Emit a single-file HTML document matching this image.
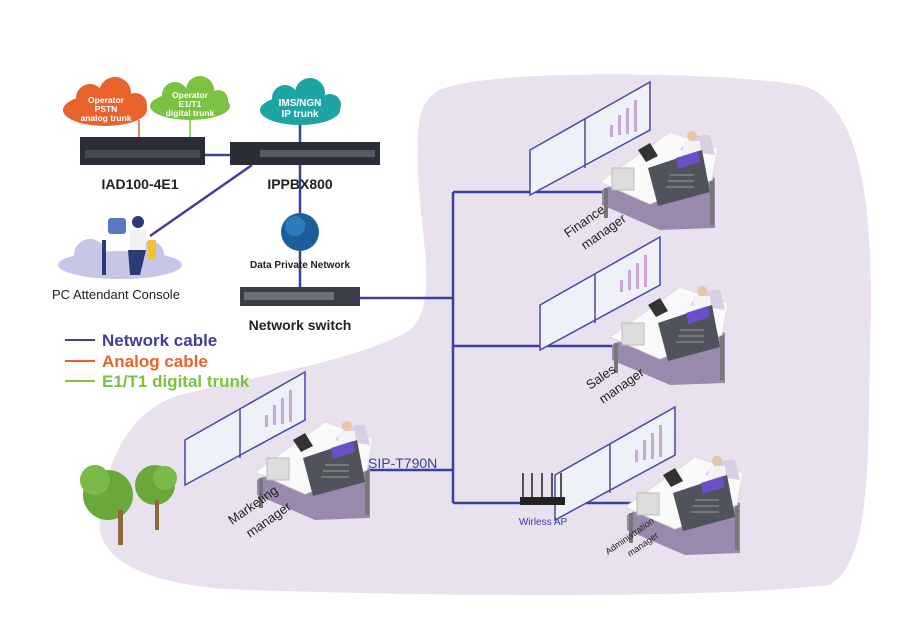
<!DOCTYPE html>
<html><head><meta charset="utf-8"><style>
html,body{margin:0;padding:0;background:#fff}
svg{display:block}
text{font-family:"Liberation Sans",sans-serif}
</style></head><body>
<svg width="900" height="637" viewBox="0 0 900 637" xmlns="http://www.w3.org/2000/svg">
<defs>
<g id="ws">
  <polygon points="-78,20 -15,-12 35,8 35,58 -20,60 -78,35" fill="#9a89ad"/>
  <rect x="-76" y="18" width="4" height="30" fill="#777"/>
  <rect x="30" y="10" width="4" height="45" fill="#777"/>
  <polygon points="-80,12 -10,-38 38,-22 32,10 -30,34" fill="#fafafa" stroke="#ddd"/>
  <path d="M0,-20 a30,30 0 0 1 30,-15 l5,20 z" fill="#d9cfe4"/>
  <polygon points="-150,-20 -30,-88 -30,-40 -150,25" fill="#eef1f7" stroke="#4a45a8" stroke-width="1.5"/>
  <line x1="-95" y1="-51" x2="-95" y2="-2" stroke="#4a45a8" stroke-width="1.5"/>
  <g fill="#c8a9d4"><rect x="-70" y="-45" width="3" height="12"/><rect x="-62" y="-55" width="3" height="20"/><rect x="-54" y="-62" width="3" height="26"/><rect x="-46" y="-70" width="3" height="32"/></g>
  <polygon points="-42,-20 -30,-27 -22,-14 -34,-8" fill="#333"/>
  <rect x="-68" y="-2" width="22" height="22" fill="#ddd" stroke="#bbb"/>
  <circle cx="12" cy="-34" r="5" fill="#e8c4a8"/>
  <polygon points="4,-29 20,-29 22,-10 2,-10" fill="#f3f3f3"/>
  <polygon points="-32,-2 22,-20 30,22 -22,36" fill="#50535b"/>
  <polygon points="-4,-12 18,-19 20,-8 -2,-1" fill="#6b4fc9"/>
  <g fill="#777"><rect x="-10" y="4" width="24" height="2"/><rect x="-12" y="10" width="26" height="2"/><rect x="-14" y="16" width="28" height="2"/></g>
</g>
</defs>
<path d="M440,90 C480,70 700,70 800,85 C860,100 875,200 870,350 C868,470 870,560 830,585 C700,600 400,595 250,590 C150,588 95,560 100,520 C105,460 130,410 180,395 C260,375 360,360 410,330 C440,300 420,240 418,170 C416,120 420,100 440,90 Z" fill="#e9e2ee"/>
<circle cx="108" cy="495" r="25" fill="#6aa83c"/><circle cx="95" cy="480" r="15" fill="#7bba48"/>
<circle cx="155" cy="485" r="20" fill="#6aa83c"/><circle cx="165" cy="478" r="12" fill="#7bba48"/>
<rect x="118" y="510" width="5" height="35" fill="#8a6a3a"/><rect x="155" y="500" width="4" height="30" fill="#8a6a3a"/>
<g stroke="#3b3fa0" stroke-width="2.5" fill="none">
<line x1="300" y1="110" x2="300" y2="290"/>
<line x1="205" y1="155" x2="232" y2="155"/>
<line x1="252" y1="165" x2="150" y2="236"/>
<polyline points="360,298 453,298"/>
<polyline points="453,192 640,192"/>
<polyline points="453,192 453,503"/>
<polyline points="453,346 660,346"/>
<polyline points="360,470 453,470"/>
<polyline points="453,503 720,503"/>
</g>
<line x1="139" y1="120" x2="139" y2="138" stroke="#e8632b" stroke-width="1.5"/>
<line x1="190" y1="115" x2="190" y2="138" stroke="#7cc242" stroke-width="1.5"/>
<g fill="#e8632b"><ellipse cx="105" cy="110" rx="42" ry="16"/><circle cx="90" cy="98" r="14"/><circle cx="115" cy="93" r="16"/><circle cx="135" cy="105" r="12"/></g>
<text x="106" y="103" font-size="8.5" font-weight="bold" fill="#fff" text-anchor="middle">Operator</text>
<text x="106" y="112" font-size="8.5" font-weight="bold" fill="#fff" text-anchor="middle">PSTN</text>
<text x="106" y="121" font-size="8.5" font-weight="bold" fill="#fff" text-anchor="middle">analog trunk</text>
<g fill="#7cc242"><ellipse cx="190" cy="106" rx="40" ry="14"/><circle cx="175" cy="95" r="13"/><circle cx="200" cy="90" r="14"/><circle cx="218" cy="100" r="10"/></g>
<text x="190" y="98" font-size="8.5" font-weight="bold" fill="#fff" text-anchor="middle">Operator</text>
<text x="190" y="107" font-size="8.5" font-weight="bold" fill="#fff" text-anchor="middle">E1/T1</text>
<text x="190" y="116" font-size="8.5" font-weight="bold" fill="#fff" text-anchor="middle">digital trunk</text>
<g fill="#1fa4a4"><ellipse cx="300" cy="110" rx="40" ry="15"/><circle cx="285" cy="98" r="13"/><circle cx="310" cy="93" r="15"/><circle cx="330" cy="105" r="11"/></g>
<text x="300" y="106" font-size="10" font-weight="bold" fill="#fff" text-anchor="middle">IMS/NGN</text>
<text x="300" y="117" font-size="10" font-weight="bold" fill="#fff" text-anchor="middle">IP trunk</text>
<rect x="80" y="137" width="125" height="28" fill="#2b2e36"/>
<rect x="85" y="150" width="115" height="8" fill="#444a55"/>
<rect x="230" y="142" width="150" height="23" fill="#2b2e36"/>
<rect x="260" y="150" width="115" height="7" fill="#555b66"/>
<rect x="240" y="287" width="120" height="19" fill="#3a3d45"/>
<rect x="244" y="292" width="90" height="8" fill="#6a707a"/>
<circle cx="300" cy="232" r="19" fill="#1b5e9a"/><circle cx="295" cy="226" r="10" fill="#3b8fd0" opacity=".6"/>
<ellipse cx="120" cy="265" rx="62" ry="14" fill="#c7c6e6"/><circle cx="90" cy="255" r="16" fill="#c7c6e6"/><circle cx="150" cy="255" r="14" fill="#c7c6e6"/>
<rect x="108" y="218" width="18" height="16" rx="3" fill="#5b78c4"/>
<rect x="102" y="240" width="4" height="35" fill="#2d3a7a"/>
<circle cx="138" cy="222" r="6" fill="#2d3a7a"/><rect x="130" y="230" width="16" height="20" fill="#f2f2f2"/>
<rect x="148" y="240" width="8" height="20" fill="#f1c232"/>
<polygon points="128,250 146,250 140,275 130,275" fill="#2d3a7a"/>
<text x="140" y="189" font-size="14" font-weight="bold" fill="#222" text-anchor="middle">IAD100-4E1</text>
<text x="300" y="189" font-size="14" font-weight="bold" fill="#222" text-anchor="middle">IPPBX800</text>
<text x="300" y="268" font-size="10" font-weight="bold" fill="#222" text-anchor="middle">Data Private Network</text>
<text x="52" y="299" font-size="13" fill="#222">PC Attendant Console</text>
<text x="300" y="330" font-size="14" font-weight="bold" fill="#222" text-anchor="middle">Network switch</text>
<line x1="65" y1="340" x2="95" y2="340" stroke="#3b3fa0" stroke-width="2"/>
<line x1="65" y1="361" x2="95" y2="361" stroke="#e8632b" stroke-width="2"/>
<line x1="65" y1="381" x2="95" y2="381" stroke="#7cc242" stroke-width="2"/>
<text x="102" y="346" font-size="17" font-weight="bold" fill="#3b3fa0">Network cable</text>
<text x="102" y="367" font-size="17" font-weight="bold" fill="#e8632b">Analog cable</text>
<text x="102" y="387" font-size="17" font-weight="bold" fill="#7cc242">E1/T1 digital trunk</text>
<use href="#ws" x="680" y="170"/>
<use href="#ws" x="690" y="325"/>
<use href="#ws" x="335" y="460"/>
<use href="#ws" x="705" y="495"/>
<rect x="520" y="497" width="45" height="8" fill="#222"/>
<g stroke="#222" stroke-width="1.5"><line x1="523" y1="497" x2="523" y2="473"/><line x1="532" y1="497" x2="532" y2="473"/><line x1="542" y1="497" x2="542" y2="473"/><line x1="552" y1="497" x2="552" y2="473"/><line x1="561" y1="497" x2="561" y2="473"/></g>
<text x="543" y="525" font-size="10" fill="#3b3fa0" text-anchor="middle">Wirless AP</text>
<text x="368" y="468" font-size="14" fill="#3b3fa0">SIP-T790N</text>
<g font-size="13" fill="#222">
<text transform="translate(568,238) rotate(-35)">Finance</text>
<text transform="translate(585,250) rotate(-35)">manager</text>
<text transform="translate(590,390) rotate(-35)">Sales</text>
<text transform="translate(603,404) rotate(-35)">manager</text>
<text transform="translate(232,525) rotate(-35)">Marketing</text>
<text transform="translate(250,538) rotate(-35)">manager</text>
</g>
<g font-size="9" fill="#222">
<text transform="translate(608,555) rotate(-35)">Administration</text>
<text transform="translate(630,557) rotate(-35)">manager</text>
</g>
</svg>
</body></html>
